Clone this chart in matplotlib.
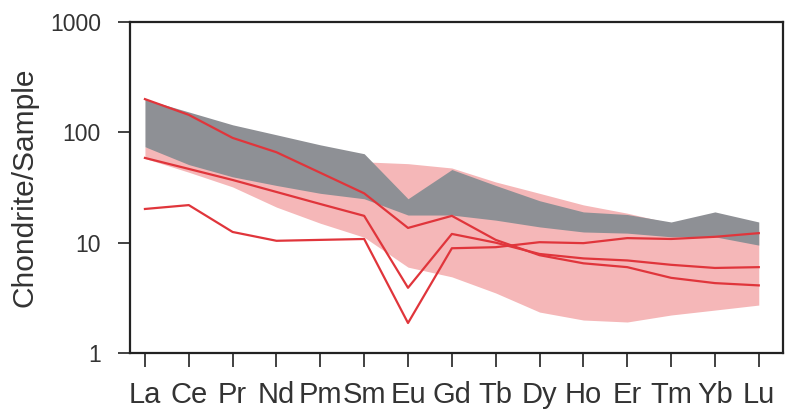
import numpy as np
import matplotlib.pyplot as plt
from matplotlib.ticker import FixedLocator, NullLocator

elements = ['La', 'Ce', 'Pr', 'Nd', 'Pm', 'Sm', 'Eu', 'Gd', 'Tb', 'Dy', 'Ho', 'Er', 'Tm', 'Yb', 'Lu']

# grey field
grey_upper = [200, 153, 117, 95, 77, 64, 25, 46, 33, 24, 19, 18, 15.4, 19, 15.4]
grey_lower = [74, 51, 39.5, 33, 28, 25, 17.8, 17.8, 16, 13.9, 12.5, 12.2, 11.3, 11.3, 9.5]

# pink field
pink_upper = [74, 60, 50, 45, 45, 54, 52, 47.5, 35.5, 28, 22, 18.5, 15, 14, 13]
pink_lower = [58, 43.5, 32, 21, 15, 11.2, 6.0, 4.9, 3.5, 2.35, 1.99, 1.91, 2.21, 2.45, 2.72]

# sample patterns
sample_a = [200, 144, 89, 66, 43, 28, 13.6, 17.5, 10.6, 7.7, 6.5, 6.0, 4.8, 4.3, 4.1]
sample_b = [58.6, 46.6, 37, 28.8, 22.4, 17.5, 3.9, 12.0, 10.0, 7.9, 7.2, 6.9, 6.3, 5.9, 6.0]
sample_c = [20.2, 21.9, 12.5, 10.4, 10.6, 10.8, 1.87, 8.9, 9.1, 10.1, 9.9, 11.0, 10.8, 11.3, 12.2]

plt.rcParams['font.family'] = ['Liberation Sans', 'DejaVu Sans']

fig = plt.figure(figsize=(7.9, 4.11), dpi=100)
ax = fig.add_axes([0.1646, 0.1411, 0.8264, 0.8054])

x = np.arange(len(elements))
ax.fill_between(x, pink_lower, pink_upper, color='#f5b7b8', lw=0, zorder=1)
ax.fill_between(x, grey_lower, grey_upper, color='#8e9095', lw=0, zorder=2)

red = '#e0353b'
for s in (sample_a, sample_b, sample_c):
    ax.plot(x, s, color=red, lw=1.6, zorder=3)

ax.set_yscale('log')
ax.set_ylim(1, 1000)
ax.set_xlim(-0.34, 14.55)
ax.yaxis.set_major_locator(FixedLocator([1, 10, 100, 1000]))
ax.yaxis.set_minor_locator(NullLocator())
ax.set_yticklabels(['1', '10', '100', '1000'])
ax.set_xticks(x)
ax.set_xticklabels(elements)

ax.tick_params(axis='x', direction='out', length=10, width=1.3, pad=10,
               labelsize=21, colors='#333333')
ax.tick_params(axis='y', direction='out', length=9, width=1.3, pad=12,
               labelsize=16.5, colors='#333333')
for sp in ax.spines.values():
    sp.set_linewidth(1.6)
    sp.set_color('#222222')

ax.set_ylabel('Chondrite/Sample', fontsize=21.5, color='#333333', labelpad=8)

fig.savefig('out.png', dpi=100)
